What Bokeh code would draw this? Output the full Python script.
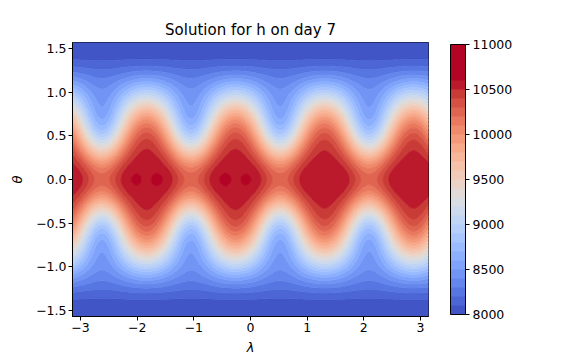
import numpy as np
from bokeh.plotting import figure
from bokeh.plotting.contour import contour_data
from bokeh.models import Range1d, FixedTicker, ColorBar, LinearColorMapper, ColumnDataSource
from bokeh.embed import file_html
from bokeh.resources import INLINE

# ---- Rossby-Haurwitz (wavenumber 4) shallow-water solution, day 7 ----
R_WAVE = 4
H0 = 8000.0            # m
OMEGA = 7.292e-5       # earth rotation, 1/s
W_RH = 7.848e-6        # omega of the wave, 1/s
K_RH = 7.848e-6        # K of the wave, 1/s
A_EARTH = 6.37122e6    # m
G = 9.80616            # m/s^2
PEAK_LON = 1.307       # longitude of an equatorial maximum on day 7
EQ_OFFSET = 46.0       # extra height of the numerical solution at the equator (m)
EQ_WAVE1 = 8.5         # small wavenumber-1 asymmetry of the numerical solution (m)
EQ_WAVE1_LON = -1.05

LEVELS = list(range(8000, 11001, 100))
COLOR_LOW, COLOR_HIGH = 8000, 10600      # colour-scale limits
CBAR_TICKS = [8000, 8500, 9000, 9500, 10000, 10500, 11000]
X_TICKS = [-3, -2, -1, 0, 1, 2, 3]
Y_TICKS = [-1.5, -1.0, -0.5, 0.0, 0.5, 1.0, 1.5]

# coolwarm colour table (Moreland)
COOLWARM = [
    (59, 76, 192), (68, 90, 204), (77, 104, 215), (87, 117, 225), (98, 130, 234),
    (108, 142, 241), (119, 154, 247), (130, 165, 251), (141, 176, 254), (152, 185, 255),
    (163, 194, 255), (174, 201, 253), (184, 208, 249), (194, 213, 244), (204, 217, 238),
    (213, 219, 230), (221, 221, 221), (229, 216, 209), (236, 211, 197), (241, 204, 185),
    (245, 196, 173), (247, 187, 160), (247, 177, 148), (247, 166, 135), (244, 154, 123),
    (241, 141, 111), (236, 127, 99), (229, 112, 88), (222, 96, 77), (213, 80, 66),
    (203, 62, 56), (192, 40, 47), (180, 4, 38)]


def coolwarm(t):
    t = min(max(t, 0.0), 1.0)
    pos = t * (len(COOLWARM) - 1)
    i = min(int(pos), len(COOLWARM) - 2)
    f = pos - i
    c = [round(COOLWARM[i][k] * (1 - f) + COOLWARM[i + 1][k] * f) for k in range(3)]
    return "#%02x%02x%02x" % tuple(c)


fill_colors = [coolwarm(((LEVELS[i] + LEVELS[i + 1]) / 2 - COLOR_LOW) / (COLOR_HIGH - COLOR_LOW))
               for i in range(len(LEVELS) - 1)]

# ---- field ----
lam = np.linspace(-np.pi, np.pi, 421)
th = np.linspace(-np.pi / 2, np.pi / 2, 241)
LAM, TH = np.meshgrid(lam, th)
c = np.cos(TH)
R = R_WAVE
A = W_RH / 2 * (2 * OMEGA + W_RH) * c**2 + 0.25 * K_RH**2 * c**(2 * R) * (
    (R + 1) * c**2 + (2 * R**2 - R - 2) - 2 * R**2 / np.maximum(c, 1e-8)**2)
B = 2 * (OMEGA + W_RH) * K_RH / ((R + 1) * (R + 2)) * c**R * (
    (R**2 + 2 * R + 2) - (R + 1)**2 * c**2)
C = 0.25 * K_RH**2 * c**(2 * R) * ((R + 1) * c**2 - (R + 2))
lp = LAM - PEAK_LON
h = H0 + A_EARTH**2 / G * (A + B * np.cos(R * lp) + C * np.cos(2 * R * lp))
h = h + (EQ_OFFSET + EQ_WAVE1 * np.cos(LAM - EQ_WAVE1_LON)) * c**2

# ---- figure ----
FONT = "DejaVu Sans"
TICK_FS = "12.5px"
p = figure(frame_width=356, frame_height=274, output_backend="svg", toolbar_location=None,
           x_range=Range1d(-np.pi, np.pi), y_range=Range1d(-np.pi / 2, np.pi / 2),
           min_border_left=72, min_border_right=0, min_border_top=42,
           min_border_bottom=0, title="Solution for h on day 7")
p.title.text_font = FONT
p.title.text_font_size = "15px"
p.title.text_font_style = "normal"
p.title.align = "center"
p.title.text_color = "black"
p.title.standoff = 7

cd = contour_data(x=lam, y=th, z=h, levels=LEVELS, want_fill=True, want_line=False)
fd = cd.fill_data
band_colors = [fill_colors[LEVELS.index(int(round(l)))] for l in fd.lower_levels]
src = ColumnDataSource(dict(xs=fd.xs, ys=fd.ys, color=band_colors))
p.multi_polygons(xs="xs", ys="ys", source=src, fill_color="color",
                 line_color="color", line_width=0.8)

p.grid.visible = False
p.outline_line_color = "black"
p.outline_line_width = 1
for ax in (p.xaxis[0], p.yaxis[0]):
    ax.major_label_text_font = FONT
    ax.major_label_text_font_size = TICK_FS
    ax.major_label_text_color = "black"
    ax.axis_label_text_font = FONT
    ax.axis_label_text_font_size = "13px"
    ax.axis_label_text_font_style = "italic"
    ax.axis_label_text_color = "black"
    ax.axis_line_color = "black"
    ax.major_tick_line_color = "black"
    ax.major_tick_out = 4
    ax.major_tick_in = 0
    ax.minor_tick_line_color = None
    ax.major_label_standoff = 2
p.xaxis[0].axis_label_standoff = 5
p.yaxis[0].axis_label_standoff = 8

p.xaxis[0].ticker = FixedTicker(ticks=X_TICKS)
p.xaxis[0].major_label_overrides = {t: str(t).replace("-", "\u2212") for t in X_TICKS}
p.yaxis[0].ticker = FixedTicker(ticks=Y_TICKS)
p.yaxis[0].major_label_overrides = {t: ("%.1f" % t).replace("-", "\u2212") for t in Y_TICKS}
p.xaxis[0].axis_label = "\u03bb"
p.yaxis[0].axis_label = "\u03b8"

mapper = LinearColorMapper(palette=fill_colors, low=LEVELS[0], high=LEVELS[-1])
cbar = ColorBar(color_mapper=mapper, width=15, height=270, location=(22, 2),
                padding=0, margin=0, ticker=FixedTicker(ticks=CBAR_TICKS),
                major_tick_in=0, major_tick_out=4, major_tick_line_color="black",
                minor_tick_line_color=None, bar_line_color="black",
                major_label_text_font=FONT, major_label_text_font_size=TICK_FS,
                major_label_text_color="black", label_standoff=3,
                background_fill_alpha=0)
p.add_layout(cbar, "right")

open("out.html", "w").write(file_html(p, INLINE))
